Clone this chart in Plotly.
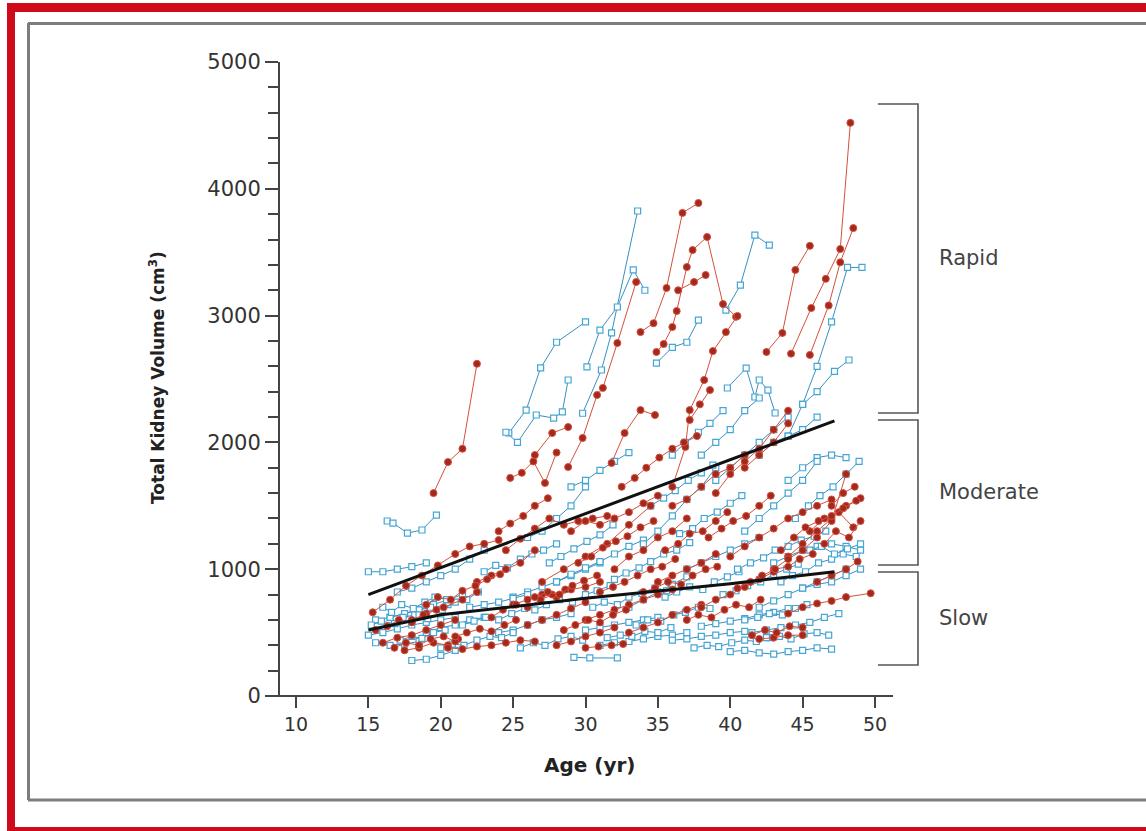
import plotly.graph_objects as go

# ---------------- data (age in years, total kidney volume in cm3) ----------------
red_ages = [
    [19.5, 20.5, 21.5, 22.5],
    [44.2, 45.6, 46.6, 47.6, 48.3],
    [45.5, 46.8, 47.6, 48.5],
    [33.8, 34.7, 35.6, 36.7, 37.8],
    [34.9, 35.4, 36.0, 36.3, 37.0, 37.4, 38.4, 39.5, 40.4],
    [36.4, 37.5, 38.3],
    [42.5, 43.6, 44.5, 45.5],
    [31.8, 32.7, 33.8, 34.8],
    [28.8, 29.8, 30.8, 31.2, 32.2, 33.5],
    [36.0, 36.9, 37.2, 38.2, 38.8, 39.7, 40.5],
    [26.5, 27.7, 28.8],
    [37.2, 37.9, 38.6],
    [41.0, 42.0, 43.0, 44.0],
    [15.3, 16.5, 17.6, 18.7, 19.8, 21.0, 22.0, 23.0, 24.0],
    [16.0, 17.0, 18.0, 19.0, 20.0, 21.0],
    [17.5, 18.5, 19.5, 20.5, 21.2],
    [18.0, 19.0, 20.2, 21.5, 22.5],
    [20.5, 21.5, 22.5, 23.5, 24.5, 25.5, 26.5],
    [30.0, 30.9, 31.8, 32.6],
    [24.5, 25.5, 26.5, 27.5, 28.5, 29.5, 30.5, 31.5],
    [25.0, 26.0, 27.0, 28.0, 29.0, 30.0, 31.0],
    [26.0, 27.0, 28.0, 29.0, 30.0],
    [27.0, 28.5, 30.0, 31.5, 33.0, 34.5],
    [29.0, 30.0, 31.0, 32.0, 33.0, 34.0, 35.0],
    [30.0, 31.0, 32.0, 33.0, 34.0, 35.0, 36.0],
    [24.8, 25.6, 26.4, 27.2, 28.0],
    [22.5, 23.5, 24.5, 25.5, 26.5],
    [28.0, 29.0, 30.0, 31.0, 32.0],
    [32.0, 33.0, 34.0, 35.0, 36.0, 37.0],
    [33.0, 34.0, 35.0, 36.0, 37.0, 38.0],
    [44.0, 45.0, 46.0, 47.0, 48.0, 49.0],
    [43.0, 44.0, 45.0, 46.0, 47.0, 48.0],
    [45.5, 46.5, 47.5, 48.5],
    [38.0, 39.0, 40.0, 41.0, 42.0, 43.0],
    [40.0, 41.0, 42.0, 43.0, 44.0, 45.0, 46.0, 47.0],
    [44.0, 45.0, 46.0, 47.0, 48.0, 49.7],
    [42.0, 43.0, 44.0, 45.0],
    [36.0, 37.0, 38.0, 39.0, 40.0, 41.0],
    [39.0, 40.0, 41.0, 42.0, 43.0, 44.0],
    [35.0, 36.0, 37.0, 38.0, 39.0],
    [46.0, 47.0, 48.0, 48.8],
    [15.5, 16.3, 17.1, 18.0, 18.8, 19.7],
    [16.8, 17.6, 18.5, 19.3, 20.2, 21.0],
    [19.0, 19.8, 20.7, 21.5, 22.4, 23.2, 24.1],
    [21.0, 21.8, 22.7, 23.5, 24.4, 25.2],
    [23.5, 24.3, 25.2, 26.0, 26.9, 27.7, 28.6],
    [24.0, 24.8, 25.7, 26.5, 27.4],
    [26.5, 27.4, 28.2, 29.1, 29.9, 30.8],
    [28.5, 29.3, 30.2, 31.0, 31.9, 32.8],
    [29.5, 30.4, 31.2, 32.1, 32.9, 33.8, 34.7],
    [31.0, 31.9, 32.7, 33.6, 34.5, 35.3, 36.2],
    [34.0, 34.8, 35.7, 36.6, 37.4, 38.3, 39.1],
    [35.5, 36.4, 37.2, 38.1, 39.0, 39.8],
    [37.0, 37.8, 38.7, 39.6, 40.4, 41.3, 42.1],
    [38.5, 39.4, 40.2, 41.1, 42.0, 42.8],
    [40.5, 41.4, 42.2, 43.1, 44.0, 44.8, 45.7],
    [43.5, 44.4, 45.2, 46.1, 47.0, 47.8, 48.7],
    [46.5, 47.3, 48.2, 49.0],
    [41.5, 42.4, 43.2, 44.1, 45.0],
    [47.0, 47.8, 48.6],
    [32.5, 33.4, 34.2, 35.1, 36.0, 36.8, 37.7],
]
red_vols = [
    [1600, 1845, 1950, 2620],
    [2700, 3060, 3290, 3525, 4520],
    [2690, 3080, 3420, 3690],
    [2870, 2940, 3218, 3810, 3888],
    [2713, 2776, 2910, 3036, 3383, 3517, 3620, 3091, 2990],
    [3200, 3265, 3320],
    [2713, 2863, 3360, 3550],
    [1838, 2074, 2255, 2216],
    [1806, 2035, 2374, 2430, 2784, 3265],
    [1650, 1964, 2255, 2492, 2720, 2870, 2997],
    [1900, 2074, 2121],
    [2177, 2300, 2413],
    [1800, 1900, 2000, 2150],
    [660, 760, 870, 950, 1030, 1120, 1180, 1200, 1230],
    [420, 460, 480, 520, 560, 600],
    [360, 380, 420, 400, 450],
    [600, 650, 700, 760, 820],
    [380, 370, 390, 400, 420, 440, 430],
    [380, 390, 400, 410],
    [1150, 1240, 1320, 1400, 1350, 1380, 1400, 1420],
    [720, 760, 800, 780, 840, 860, 900],
    [560, 600, 640, 690, 740],
    [900, 1000, 1100, 1200, 1350, 1500],
    [1300, 1380, 1350, 1400, 1450, 1520, 1580],
    [600, 640, 680, 720, 760, 800, 840],
    [1720, 1760, 1850, 1680, 1920],
    [900, 950, 1000, 1050, 1150],
    [400, 430, 470, 500, 540],
    [1000, 1100, 1150, 1250, 1300, 1400],
    [500, 540, 580, 640, 680, 720],
    [1100, 1200, 1300, 1400, 1500, 1560],
    [1000, 1080, 1150, 1250, 1380, 1750],
    [1300, 1400, 1450, 1330],
    [700, 760, 800, 860, 920, 980],
    [1100, 1180, 1250, 1320, 1400, 1450, 1500, 1550],
    [650, 700, 730, 750, 780, 810],
    [450, 460, 480, 480],
    [1500, 1550, 1650, 1750, 1800, 1900],
    [1600, 1750, 1850, 1950, 2100, 2250],
    [900, 950, 1000, 1050, 1120],
    [900, 950, 1000, 1060],
    [520, 550, 600, 580, 640, 680],
    [380, 420, 400, 450, 470, 430],
    [720, 780, 760, 830, 870, 920, 960],
    [470, 500, 530, 510, 560, 600],
    [620, 680, 720, 700, 760, 800, 840],
    [1300, 1360, 1420, 1500, 1560],
    [780, 820, 800, 870, 910, 950],
    [520, 560, 600, 580, 640, 680],
    [1050, 1100, 1170, 1220, 1260, 1330, 1380],
    [820, 860, 900, 950, 1000, 1020, 1080],
    [820, 850, 900, 880, 950, 1000, 1020],
    [1150, 1200, 1280, 1300, 1380, 1450],
    [600, 640, 620, 680, 720, 700, 760],
    [1250, 1320, 1380, 1420, 1500, 1580],
    [850, 900, 950, 1000, 1020, 1080, 1120],
    [1150, 1250, 1330, 1380, 1420, 1480, 1540],
    [1200, 1300, 1250, 1380],
    [480, 520, 500, 550, 540],
    [1500, 1600, 1650],
    [1650, 1720, 1800, 1880, 1950, 2000, 2050],
]

blue_ages = [
    [29.8, 31.1, 31.8, 33.6],
    [30.1, 31.0, 32.2, 33.3, 34.1],
    [24.7, 25.9, 26.9, 28.0, 30.0],
    [24.5, 25.3, 26.6, 27.8, 28.4, 28.8],
    [34.9, 36.0, 37.0, 37.8],
    [39.7, 40.7, 41.7, 42.7],
    [39.8, 41.1, 41.7, 42.0, 42.6, 43.1],
    [45.0, 46.0, 47.0, 48.1, 49.1],
    [44.0, 45.0, 46.0, 47.2, 48.2],
    [16.3, 16.7, 17.7, 18.7, 19.7],
    [38.0, 39.0, 40.0, 41.0, 42.0],
    [42.0, 43.0, 44.0, 45.0, 46.0],
    [15.0, 16.0, 17.0, 18.0, 19.0],
    [15.5, 16.5, 17.5, 18.5, 19.5, 20.5],
    [15.0, 16.0, 17.0, 18.0, 19.0, 20.0, 21.0],
    [15.5, 16.5, 17.5, 18.5],
    [16.5, 17.5, 18.5, 19.5, 20.5, 21.5],
    [18.0, 19.0, 20.0, 21.0],
    [17.0, 18.0, 19.0, 20.0, 21.0, 22.0, 23.0],
    [19.0, 20.0, 21.0, 22.0, 23.0],
    [29.2, 30.3, 32.2],
    [24.0, 25.0, 26.0, 27.0, 28.0, 29.0],
    [25.0, 26.0, 27.0, 28.0, 29.0, 30.0, 31.0],
    [28.0, 29.0, 30.0, 31.0, 32.0, 33.0, 34.0],
    [30.0, 31.0, 32.0, 33.0, 34.0, 35.0],
    [31.0, 32.0, 33.0, 34.0, 35.0, 36.0, 37.0],
    [26.0, 27.0, 28.0, 29.0, 30.0],
    [29.0, 30.0, 31.0, 32.0, 33.0],
    [33.0, 34.0, 35.0, 36.0, 37.0],
    [34.0, 35.0, 36.0, 37.0, 38.0, 39.0],
    [22.0, 23.0, 24.0, 25.0, 26.0],
    [40.0, 41.0, 42.0, 43.0, 44.0, 45.0, 46.0, 47.0],
    [42.0, 43.0, 44.0, 45.0, 46.0, 47.0, 48.0],
    [43.0, 44.0, 45.0, 46.0, 47.0, 48.0, 49.0],
    [38.0, 39.0, 40.0, 41.0, 42.0, 43.0, 44.0],
    [36.0, 37.0, 38.0, 39.0, 40.0, 41.0],
    [44.0, 45.0, 46.0, 47.0, 48.0],
    [41.0, 42.0, 43.0, 44.0, 45.0, 46.0],
    [45.0, 46.0, 47.0, 48.0, 49.0],
    [37.0, 38.0, 39.0, 40.0, 41.0, 42.0],
    [39.0, 40.0, 41.0, 42.0, 43.0, 44.0],
    [41.5, 42.5, 43.5, 44.5, 45.5, 46.5, 47.5],
    [15.2, 15.9, 16.8, 17.4, 18.2, 19.1],
    [16.0, 16.6, 17.3, 18.1, 18.9, 19.6, 20.4],
    [17.2, 18.0, 18.7, 19.5, 20.3],
    [18.5, 19.3, 20.1, 21.0, 21.8, 22.6],
    [20.0, 20.8, 21.6, 22.5, 23.4, 24.2, 25.0],
    [21.5, 22.3, 23.1, 24.0, 24.9, 25.8],
    [23.0, 23.8, 24.6, 25.5, 26.3, 27.1, 28.0],
    [25.5, 26.4, 27.2, 28.1, 29.0, 29.8],
    [26.5, 27.3, 28.2, 29.1, 30.0, 30.8, 31.7],
    [27.5, 28.3, 29.2, 30.1, 31.0, 31.9],
    [30.5, 31.3, 32.2, 33.0, 33.9, 34.8, 35.6],
    [31.5, 32.4, 33.2, 34.1, 35.0, 35.9],
    [32.0, 32.8, 33.7, 34.5, 35.4, 36.3, 37.2],
    [33.5, 34.3, 35.2, 36.1, 36.9, 37.8, 38.6],
    [34.5, 35.4, 36.2, 37.1, 38.0, 38.8],
    [35.5, 36.3, 37.2, 38.1, 38.9, 39.8, 40.6],
    [36.5, 37.4, 38.2, 39.1, 40.0, 40.8],
    [37.5, 38.4, 39.2, 40.1, 41.0, 41.8, 42.7],
    [39.5, 40.4, 41.2, 42.1, 43.0, 43.9, 44.7],
    [40.5, 41.4, 42.3, 43.1, 44.0, 44.9, 45.8, 46.6],
    [41.0, 41.9, 42.7, 43.6, 44.5, 45.3],
    [43.5, 44.3, 45.2, 46.1, 47.0, 47.8, 48.7],
    [44.5, 45.4, 46.2, 47.1, 48.0, 48.9],
    [45.5, 46.3, 47.2, 48.1, 49.0],
    [42.5, 43.4, 44.2, 45.1, 46.0, 46.8],
    [36.0, 36.9, 37.8, 38.6, 39.5],
]
blue_vols = [
    [2230, 2571, 2863, 3825],
    [2595, 2886, 3068, 3360, 3200],
    [2074, 2255, 2587, 2790, 2950],
    [2080, 2000, 2216, 2192, 2240, 2492],
    [2625, 2750, 2790, 2965],
    [3043, 3240, 3635, 3556],
    [2429, 2586, 2358, 2492, 2413, 2232],
    [2300, 2600, 2950, 3380, 3380],
    [2050, 2300, 2400, 2560, 2650],
    [1380, 1364, 1285, 1309, 1427],
    [1900, 2000, 2100, 2250, 2350],
    [1900, 2000, 2050, 2100, 2200],
    [980, 980, 1000, 1020, 1050],
    [600, 620, 650, 680, 700, 720],
    [480, 500, 530, 560, 580, 600, 620],
    [420, 400, 410, 430],
    [620, 650, 680, 720, 760, 800],
    [280, 290, 320, 360],
    [820, 850, 900, 950, 1000, 1080, 1150],
    [500, 540, 560, 600, 620],
    [305, 300, 300],
    [500, 520, 560, 600, 620, 650],
    [780, 820, 860, 900, 950, 1000, 1050],
    [900, 960, 1010, 1060, 1120, 1180, 1230],
    [520, 540, 560, 580, 600, 620],
    [400, 420, 430, 450, 470, 480, 500],
    [1250, 1300, 1400, 1500, 1650],
    [1650, 1700, 1780, 1850, 1920],
    [700, 760, 820, 880, 940],
    [1200, 1300, 1420, 1550, 1650, 1800],
    [700, 720, 740, 770, 800],
    [350, 360, 340, 330, 350, 360, 380, 370],
    [700, 750, 800, 850, 900, 950, 1000],
    [1050, 1100, 1150, 1180, 1200, 1180, 1150],
    [550, 570, 590, 610, 640, 660, 690],
    [440, 450, 470, 480, 500, 510],
    [1700, 1800, 1880, 1900, 1880],
    [1300, 1400, 1500, 1600, 1700, 1850],
    [850, 880, 900, 950, 1000],
    [1000, 1050, 1100, 1150, 1200, 1250],
    [1700, 1800, 1900, 2000, 2100, 2200],
    [500, 520, 540, 560, 580, 620, 650],
    [560, 590, 570, 620, 640, 610],
    [700, 660, 720, 690, 740, 780, 760],
    [440, 470, 455, 500, 520],
    [640, 700, 680, 740, 760, 820],
    [380, 410, 400, 440, 470, 460, 500],
    [560, 590, 620, 600, 650, 690],
    [980, 1030, 1010, 1080, 1120, 1150, 1200],
    [380, 420, 400, 450, 470, 440],
    [680, 720, 760, 740, 800, 830, 870],
    [1050, 1100, 1160, 1220, 1270, 1350],
    [700, 740, 720, 780, 810, 850, 830],
    [460, 480, 470, 510, 500, 540],
    [920, 970, 1010, 1060, 1120, 1150, 1210],
    [560, 600, 590, 640, 660, 700, 690],
    [1500, 1560, 1620, 1700, 1760, 1820],
    [780, 820, 860, 840, 900, 940, 980],
    [1280, 1320, 1400, 1450, 1520, 1580],
    [380, 400, 390, 420, 440, 430, 460],
    [800, 830, 870, 900, 960, 1000, 1040],
    [1000, 1050, 1090, 1150, 1180, 1230, 1260, 1300],
    [600, 620, 650, 640, 690, 720],
    [900, 950, 980, 1050, 1080, 1120, 1100],
    [1400, 1500, 1580, 1650, 1750, 1850],
    [1150, 1180, 1120, 1160, 1200],
    [460, 470, 450, 490, 500, 480],
    [1900, 2000, 2080, 2150, 2250],
]

fit_upper_age = [15.0, 47.2]
fit_upper_vol = [800, 2170]
fit_lower_age = [15.0, 20.0, 30.0, 40.0, 47.2]
fit_lower_vol = [520, 640, 770, 885, 980]

y_ticks = [0, 1000, 2000, 3000, 4000, 5000]
x_ticks = [10, 15, 20, 25, 30, 35, 40, 45, 50]

groups = ["Rapid", "Moderate", "Slow"]
group_top = [4669, 2177, 978]
group_bottom = [2232, 1033, 244]
group_label_y = [3454, 1609, 615]

# ---------------- figure ----------------
W, H = 1146, 831
L, R, T, B = 280, 146, 62, 135
PW, PH = W - L - R, H - T - B


def px(xp):
    return (xp - L) / PW


def py(yp):
    return (H - B - yp) / PH


RED_LINE = "#d4503c"
RED_FILL = "#a3281e"
BLUE_LINE = "#3a8fbf"
BLUE_MARK = "#43a6d6"

fig = go.Figure()

for a, v in zip(blue_ages, blue_vols):
    fig.add_trace(go.Scatter(
        x=a, y=v, mode="lines+markers",
        line=dict(color=BLUE_LINE, width=1),
        marker=dict(symbol="square", size=6, color="white",
                    line=dict(color=BLUE_MARK, width=1.2)),
        showlegend=False, hoverinfo="skip"))

for a, v in zip(red_ages, red_vols):
    fig.add_trace(go.Scatter(
        x=a, y=v, mode="lines+markers",
        line=dict(color=RED_LINE, width=1),
        marker=dict(symbol="circle", size=7, color=RED_FILL,
                    line=dict(color=RED_LINE, width=1)),
        showlegend=False, hoverinfo="skip"))

for a, v in [(fit_upper_age, fit_upper_vol), (fit_lower_age, fit_lower_vol)]:
    fig.add_trace(go.Scatter(
        x=a, y=v, mode="lines", line=dict(color="#111111", width=3),
        showlegend=False, hoverinfo="skip"))

shapes = []
# brackets
bx0, bx1 = 50.2, 52.97
for top, bot in zip(group_top, group_bottom):
    shapes.append(dict(type="path", xref="x", yref="y",
                       path=f"M {bx0},{top} L {bx1},{top} L {bx1},{bot} L {bx0},{bot}",
                       line=dict(color="#555555", width=1.6)))
# x axis line
shapes.append(dict(type="line", xref="paper", yref="paper",
                   x0=px(265), x1=px(893), y0=0, y1=0,
                   line=dict(color="#444444", width=2)))
# red frame
RED = "#cf0a1b"
shapes.append(dict(type="rect", xref="paper", yref="paper", x0=px(7), x1=px(15), y0=py(3), y1=py(832),
                   fillcolor=RED, line=dict(width=0), layer="above"))
shapes.append(dict(type="rect", xref="paper", yref="paper", x0=px(7), x1=px(1150), y0=py(3), y1=py(12),
                   fillcolor=RED, line=dict(width=0), layer="above"))
shapes.append(dict(type="rect", xref="paper", yref="paper", x0=px(7), x1=px(1150), y0=py(827), y1=py(832),
                   fillcolor=RED, line=dict(width=0), layer="above"))
# gray inner frame
GRAY = "#7d7d7d"
shapes.append(dict(type="line", xref="paper", yref="paper", x0=px(28.5), x1=px(28.5), y0=py(23), y1=py(800),
                   line=dict(color=GRAY, width=3)))
shapes.append(dict(type="line", xref="paper", yref="paper", x0=px(28), x1=px(1150), y0=py(23.5), y1=py(23.5),
                   line=dict(color=GRAY, width=3)))
shapes.append(dict(type="line", xref="paper", yref="paper", x0=px(28), x1=px(1150), y0=py(800), y1=py(800),
                   line=dict(color=GRAY, width=3)))

annotations = []
for g, yv in zip(groups, group_label_y):
    annotations.append(dict(x=54.3, y=yv, xref="x", yref="y", text=g, showarrow=False,
                            xanchor="left", yanchor="middle",
                            font=dict(family="DejaVu Sans", size=21, color="#444444")))
annotations.append(dict(x=px(590), y=py(765), xref="paper", yref="paper", text="<b>Age (yr)</b>",
                        showarrow=False, xanchor="center", yanchor="middle",
                        font=dict(family="DejaVu Sans", size=20, color="#222222")))
annotations.append(dict(x=px(157), y=py(378), xref="paper", yref="paper",
                        text="<b>Total Kidney Volume (cm<sup>3</sup>)</b>", textangle=-90,
                        showarrow=False, xanchor="center", yanchor="middle",
                        font=dict(family="DejaVu Sans", size=17, color="#222222")))

fig.update_layout(
    width=W, height=H,
    margin=dict(l=L, r=R, t=T, b=B, pad=0),
    paper_bgcolor="white", plot_bgcolor="white",
    shapes=shapes, annotations=annotations,
    xaxis=dict(range=[10 - 16 / 14.475, 10 + 704 / 14.475], tickvals=x_ticks,
               ticktext=[str(t) for t in x_ticks], showgrid=False, zeroline=False,
               showline=False, ticks="outside", ticklen=11, tickwidth=2, tickcolor="#444444",
               tickfont=dict(family="DejaVu Sans", size=19, color="#333333")),
    yaxis=dict(range=[0, 5000], tickvals=y_ticks, showgrid=False, zeroline=False,
               showline=True, linecolor="#444444", linewidth=2,
               ticks="outside", ticklen=13, tickwidth=2, tickcolor="#444444",
               minor=dict(dtick=200, ticks="outside", ticklen=10, tickwidth=2, tickcolor="#444444"),
               tickfont=dict(family="DejaVu Sans", size=21, color="#333333")),
)

fig.write_html("out.html", config={"displayModeBar": False},
               post_script="document.body.style.margin='0';")
